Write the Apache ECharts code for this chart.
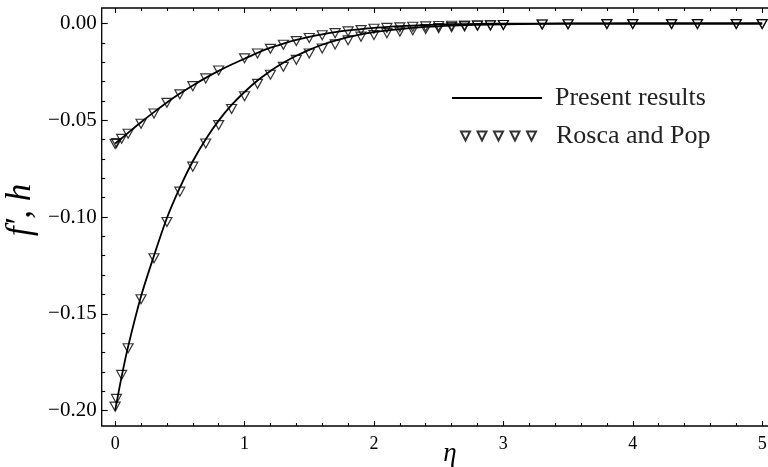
<!DOCTYPE html>
<html><head><meta charset="utf-8">
<script src="https://cdn.jsdelivr.net/npm/echarts@6/dist/echarts.min.js"></script>
<style>html,body{margin:0;padding:0;background:#fff}#c{width:768px;height:467px}</style>
</head><body><div id="c"></div>
<script>
// ---- data ----
const etaLine = [0, 0.05, 0.1, 0.2, 0.3, 0.4, 0.5, 0.6, 0.7, 0.8, 0.9, 1.0, 1.1, 1.2, 1.3, 1.4, 1.5, 1.6, 1.7, 1.8, 1.9, 2.0, 2.2, 2.4, 2.6, 2.8, 3.0, 3.5, 4.0, 4.5, 5.0];
const fpLine  = [-0.200, -0.1825, -0.167, -0.141, -0.120, -0.1005, -0.0848, -0.0712, -0.0598, -0.0502, -0.0421, -0.0354, -0.0295, -0.0245, -0.0203, -0.0167, -0.0136, -0.0110, -0.0089, -0.0071, -0.0056, -0.0045, -0.0029, -0.0018, -0.0011, -0.0007, -0.0004, -0.0001, 0, 0, 0];
const hLine   = [-0.0620, -0.0593, -0.0565, -0.0510, -0.0458, -0.0408, -0.0362, -0.0320, -0.0281, -0.0245, -0.0212, -0.0182, -0.0152, -0.0125, -0.0104, -0.0085, -0.0069, -0.0056, -0.0045, -0.0036, -0.0029, -0.0023, -0.0014, -0.0008, -0.0004, -0.0002, -0.0001, 0, 0, 0, 0];

const etaMarkF = [0, 0.01, 0.05, 0.1, 0.2, 0.3, 0.4, 0.5, 0.6, 0.7, 0.8, 0.9, 1.0, 1.1, 1.2, 1.3, 1.4, 1.5, 1.6, 1.7, 1.8, 1.9, 2.0, 2.1, 2.2, 2.3, 2.4, 2.5, 2.6, 2.7, 2.8, 2.9, 3.0, 3.3, 3.5, 3.8, 4.0, 4.3, 4.5, 4.8, 5.0];
const fpMark   = [-0.198, -0.194, -0.1816, -0.1678, -0.1425, -0.1213, -0.1026, -0.0869, -0.0740, -0.0620, -0.0525, -0.0442, -0.0376, -0.0312, -0.0265, -0.0224, -0.0188, -0.0155, -0.0129, -0.0108, -0.0087, -0.0068, -0.0060, -0.0050, -0.0042, -0.0035, -0.0029, -0.0024, -0.0019, -0.0015, -0.0012, -0.0010, -0.0008, -0.0005, -0.0004, -0.0003, -0.0003, -0.0003, -0.0003, -0.0003, -0.0003];
const etaMarkH = [0, 0.01, 0.05, 0.1, 0.2, 0.3, 0.4, 0.5, 0.6, 0.7, 0.8, 1.0, 1.1, 1.2, 1.3, 1.4, 1.5, 1.6, 1.7, 1.8, 1.9, 2.0, 2.1, 2.2, 2.3, 2.4, 2.5, 2.6, 2.7, 2.8, 2.9, 3.0, 3.3, 3.5, 3.8, 4.0, 4.3, 4.5, 4.8, 5.0];
const hMark    = [-0.0623, -0.0618, -0.0596, -0.0570, -0.0518, -0.0465, -0.0410, -0.0366, -0.0324, -0.0284, -0.0243, -0.0180, -0.0155, -0.0131, -0.0110, -0.0091, -0.0075, -0.0061, -0.0050, -0.0041, -0.0034, -0.0027, -0.0023, -0.0020, -0.0017, -0.0015, -0.0013, -0.0012, -0.0011, -0.0010, -0.0009, -0.0008, -0.0005, -0.0004, -0.0003, -0.0003, -0.0003, -0.0003, -0.0003, -0.0003];

const xMajorTicks = [0, 1, 2, 3, 4, 5];
const xMinorTicks = [0.2, 0.4, 0.6, 0.8, 1.2, 1.4, 1.6, 1.8, 2.2, 2.4, 2.6, 2.8, 3.2, 3.4, 3.6, 3.8, 4.2, 4.4, 4.6, 4.8];
const yMajorTicks = [0, -0.05, -0.10, -0.15, -0.20];
const yMinorTicks = [-0.01, -0.02, -0.03, -0.04, -0.06, -0.07, -0.08, -0.09, -0.11, -0.12, -0.13, -0.14, -0.16, -0.17, -0.18, -0.19];
const seriesNames = ['Present results', 'Rosca and Pop'];
const xName = 'η';
const yName = 'f′, h';

// ---- chart ----
const pairs = (xs, ys) => xs.map((x, i) => [x, ys[i]]);
const SERIF = '"Liberation Serif", "Times New Roman", serif';
const X_MIN = -0.104, X_MAX = 5.1, Y_MIN = -0.208, Y_MAX = 0.008;

function xAx(pos, ticks, len, labels) {
  return {
    type: 'value', position: pos, min: X_MIN, max: X_MAX,
    axisLine: { show: false, onZero: false },
    splitLine: { show: false },
    axisTick: { show: true, inside: true, length: len, customValues: ticks, lineStyle: { color: '#000', width: 1.1 } },
    axisLabel: labels ? { show: true, customValues: ticks, margin: 9, fontSize: 18, fontFamily: SERIF, color: '#000' } : { show: false }
  };
}
function yAx(ticks, len, labels) {
  return {
    type: 'value', position: 'left', min: Y_MIN, max: Y_MAX,
    axisLine: { show: false, onZero: false },
    splitLine: { show: false },
    axisTick: { show: true, inside: true, length: len, customValues: ticks, lineStyle: { color: '#000', width: 1.1 } },
    axisLabel: labels ? {
      show: true, customValues: ticks, margin: 5, fontSize: 21, fontFamily: SERIF, color: '#000',
      formatter: v => (v < -1e-9 ? '\u2212' : '') + Math.abs(v).toFixed(2)
    } : { show: false }
  };
}

const markerStyle = { color: 'rgba(0,0,0,0)', borderColor: '#000', borderWidth: 1.2 };
const triIcon = 'path://M0,0L9,0L4.5,9Z M16.5,0L25.5,0L21,9Z M33,0L42,0L37.5,9Z M49.5,0L58.5,0L54,9Z M66,0L75,0L70.5,9Z';

const chart = echarts.init(document.getElementById('c'), null, { renderer: 'canvas' });
chart.setOption({
  animation: false,
  backgroundColor: '#fff',
  grid: { left: 101.7, top: 8, width: 673.4, height: 418, outerBoundsMode: 'none', containLabel: false, show: true, borderColor: '#000', borderWidth: 1.3, backgroundColor: 'rgba(0,0,0,0)' },
  xAxis: [ xAx('bottom', xMajorTicks, 5, true), xAx('bottom', xMinorTicks, 3, false), xAx('top', xMajorTicks, 5, false), xAx('top', xMinorTicks, 3, false) ],
  yAxis: [ yAx(yMajorTicks, 6, true), yAx(yMinorTicks, 3.5, false) ],
  legend: [
    { data: [{ name: seriesNames[0], icon: 'rect' }], left: 452, top: 85, padding: 0, itemWidth: 90, itemHeight: 2, selectedMode: false,
      textStyle: { fontSize: 26, fontFamily: SERIF, color: '#222', padding: [0, 0, 0, 8] } },
    { data: [{ name: seriesNames[1], icon: triIcon }], left: 460, top: 123, padding: 0, itemWidth: 75, itemHeight: 9, selectedMode: false,
      textStyle: { fontSize: 26, fontFamily: SERIF, color: '#222', padding: [0, 0, 0, 15] } }
  ],
  graphic: [
    { type: 'text', x: 450, y: 454, style: { text: xName, font: 'italic 27px ' + SERIF, fill: '#000', align: 'center', verticalAlign: 'middle' } },
    { type: 'text', x: 21, y: 210, rotation: Math.PI / 2, style: { text: yName, font: 'italic 35px ' + SERIF, fill: '#000', align: 'center', verticalAlign: 'middle' } }
  ],
  series: [
    { name: seriesNames[0], type: 'line', data: pairs(etaLine, fpLine), showSymbol: false, smooth: 0.3, color: '#000', lineStyle: { color: '#000', width: 1.8 }, z: 2 },
    { name: seriesNames[0], type: 'line', data: pairs(etaLine, hLine), showSymbol: false, smooth: 0.3, color: '#000', lineStyle: { color: '#000', width: 1.8 }, z: 2 },
    { name: seriesNames[1], type: 'scatter', data: pairs(etaMarkF, fpMark), symbol: 'triangle', symbolRotate: 180, symbolSize: [10, 9], itemStyle: markerStyle, z: 3 },
    { name: seriesNames[1], type: 'scatter', data: pairs(etaMarkH, hMark), symbol: 'triangle', symbolRotate: 180, symbolSize: [10, 9], itemStyle: markerStyle, z: 3 }
  ]
});
</script></body></html>
